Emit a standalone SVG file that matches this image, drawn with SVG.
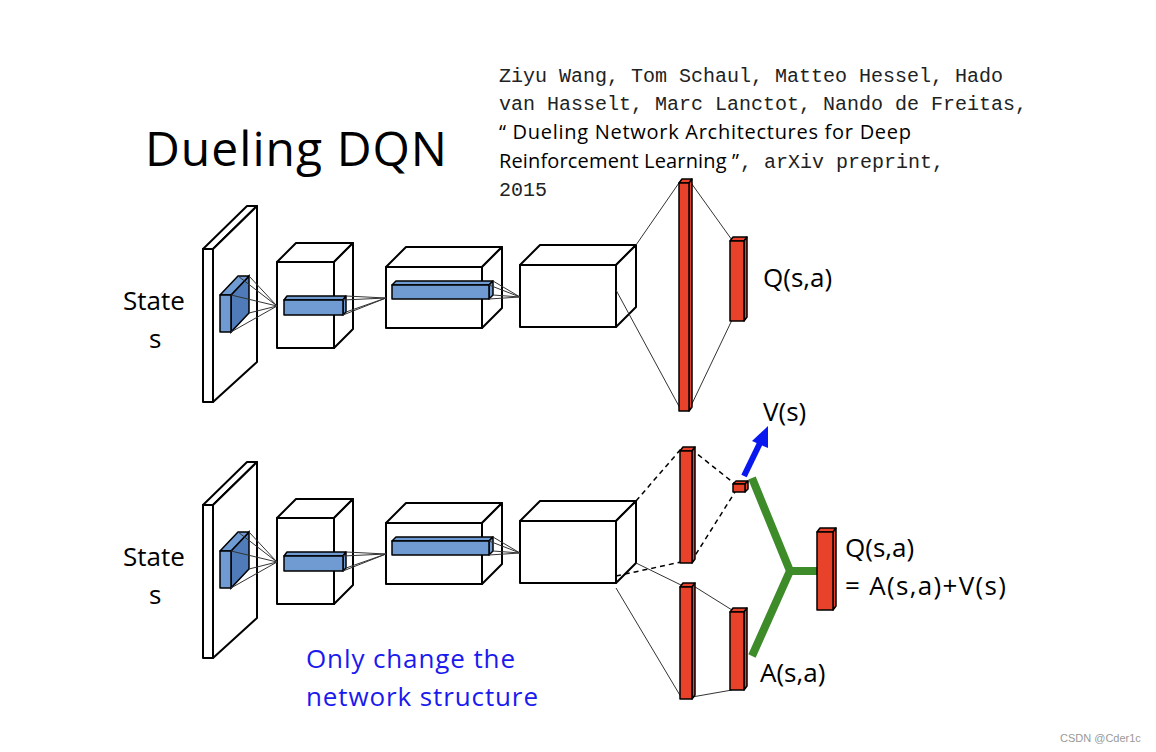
<svg xmlns="http://www.w3.org/2000/svg" width="1156" height="752" viewBox="0 0 1156 752">
<style>
.w{fill:#fff;stroke:#000;stroke-width:2;stroke-linejoin:round}
.b{fill:#6f9bd2;stroke:#000;stroke-width:1.5;stroke-linejoin:round}
.bd{fill:#4f7cb8;stroke:#000;stroke-width:1.5}
.r{fill:#e8432a;stroke:#000;stroke-width:1.5;stroke-linejoin:round}
.t{font-family:"Open Sans","Liberation Sans",sans-serif;fill:#000}
.m{font-family:"Liberation Mono",monospace;font-size:20px;fill:#222}
.ln{stroke:#333;stroke-width:1;fill:none}
.d{stroke:#000;stroke-width:1.5;fill:none;stroke-dasharray:5 4}
</style>
<rect width="1156" height="752" fill="#fff"/>
<text class="t" x="145" y="166" font-size="48" textLength="302">Dueling DQN</text>
<g id="citation">
<text class="m" x="499" y="82">Ziyu Wang, Tom Schaul, Matteo Hessel, Hado</text>
<text class="m" x="499" y="110">van Hasselt, Marc Lanctot, Nando de Freitas,</text>
<text x="499" y="139" font-size="20" class="t" textLength="412">“ Dueling Network Architectures for Deep</text>
<text x="499" y="168" class="t" font-size="20" textLength="240">Reinforcement Learning ”</text>
<text class="m" x="740" y="168">, arXiv preprint,</text>
<text class="m" x="499" y="196">2015</text>
</g>
<defs>
<g id="net">
<polygon class="w" points="203,249 247,206 257,206 213,249"/>
<polygon class="w" points="213,249 257,206 257,362 213,402"/>
<rect class="w" x="203" y="249" width="10" height="153"/>
<polygon class="bd" points="231,295 249,276 249,313 231,332"/>
<polygon class="b" points="220,295 238,276 249,276 231,295"/>
<rect class="b" x="220" y="295" width="11" height="37"/>
<polygon class="w" points="277,262 296,243 353,243 334,262"/>
<polygon class="w" points="334,262 353,243 353,329 334,348"/>
<rect class="w" x="277" y="262" width="57" height="86"/>
<path class="ln" d="M238,276L277,306M249,276L277,306M249,313L277,306M231,332L277,306M231,295L277,306"/>
<polygon class="b" points="284,300 287,296 346,296 343,300"/>
<polygon class="b" points="343,300 346,296 346,312 343,315"/>
<rect class="b" x="284" y="300" width="59" height="15"/>
<polygon class="w" points="386,267 406,247 502,247 482,267"/>
<polygon class="w" points="482,267 502,247 502,308 482,328"/>
<rect class="w" x="386" y="267" width="96" height="61" fill="none"/>
<path class="ln" d="M346,296L386,298M346,312L386,298M343,315L386,298M343,300L386,298"/>
<polygon class="b" points="392,285 396,281 493,281 489,285"/>
<polygon class="b" points="489,285 493,281 493,295 489,299"/>
<rect class="b" x="392" y="285" width="97" height="14"/>
<polygon class="w" points="520,265 540,245 636,245 616,265"/>
<polygon class="w" points="616,265 636,245 636,307 616,327"/>
<rect class="w" x="520" y="265" width="96" height="62"/>
<path class="ln" d="M493,281L520,297M493,295L520,297M489,299L520,297M489,285L520,297"/>
<text class="t" x="123" y="310" font-size="26">State</text>
<text class="t" x="149" y="348" font-size="26">s</text>
</g>
</defs>
<g id="top-net"><use href="#net"/></g>
<g id="bottom-net"><use href="#net" y="256"/></g>
<g id="connectors">
<path class="ln" d="M636,245L681,180M616,290L681,410M689,180L732,240M689,410L732,320"/>
<path class="d" d="M636,501L681,449M616,576L681,562M691,449L735,484M691,562L735,492"/>
<path class="ln" d="M636,563L681,585M616,588L681,697M692,585L732,610M692,697L732,690"/>
<path d="M752,478L790,571L752,656M790,571L818,571" stroke="#3e8b2a" stroke-width="8" fill="none" stroke-linejoin="miter"/>
<path d="M744,476L760,443" stroke="#0a18f0" stroke-width="6"/>
<polygon points="768,426 752,441 768,448" fill="#0a18f0"/>
</g>
<g id="top-fc">
<polygon class="r" points="679,183 682,179 692,179 689,183"/>
<polygon class="r" points="689,183 692,179 692,407 689,411"/>
<rect class="r" x="679" y="183" width="10" height="228"/>
</g>
<g id="top-q">
<polygon class="r" points="730,241 733,237 747,237 744,241"/>
<polygon class="r" points="744,241 747,237 747,317 744,321"/>
<rect class="r" x="730" y="241" width="14" height="80"/>
<text class="t" x="763" y="287" font-size="26">Q(s,a)</text>
</g>
<g id="v-fc">
<polygon class="r" points="680,451 683,447 695,447 692,451"/>
<polygon class="r" points="692,451 695,447 695,559 692,563"/>
<rect class="r" x="680" y="451" width="12" height="112"/>
</g>
<g id="v-node">
<polygon class="r" points="733,484 736,481 748,481 745,484"/>
<polygon class="r" points="745,484 748,481 748,489 745,492"/>
<rect class="r" x="733" y="484" width="12" height="8"/>
<text class="t" x="763" y="421" font-size="26">V(s)</text>
</g>
<g id="a-fc">
<polygon class="r" points="680,587 683,583 695,583 692,587"/>
<polygon class="r" points="692,587 695,583 695,695 692,699"/>
<rect class="r" x="680" y="587" width="12" height="112"/>
</g>
<g id="a-node">
<polygon class="r" points="730,612 733,608 747,608 744,612"/>
<polygon class="r" points="744,612 747,608 747,686 744,690"/>
<rect class="r" x="730" y="612" width="14" height="78"/>
<text class="t" x="760" y="682" font-size="26">A(s,a)</text>
</g>
<g id="q-node">
<polygon class="r" points="817,532 820,528 836,528 833,532"/>
<polygon class="r" points="833,532 836,528 836,606 833,610"/>
<rect class="r" x="817" y="532" width="16" height="78"/>
<text class="t" x="845" y="557" font-size="26">Q(s,a)</text>
<text class="t" x="845" y="595" font-size="26" textLength="161">= A(s,a)+V(s)</text>
</g>
<text class="t" x="306" y="668" font-size="26" textLength="209" style="fill:#1a1aee">Only change the</text>
<text class="t" x="306" y="706" font-size="26" textLength="232" style="fill:#1a1aee">network structure</text>
<text x="1060" y="742" font-family="Liberation Sans,sans-serif" font-size="11" fill="#999">CSDN @Cder1c</text>
</svg>
